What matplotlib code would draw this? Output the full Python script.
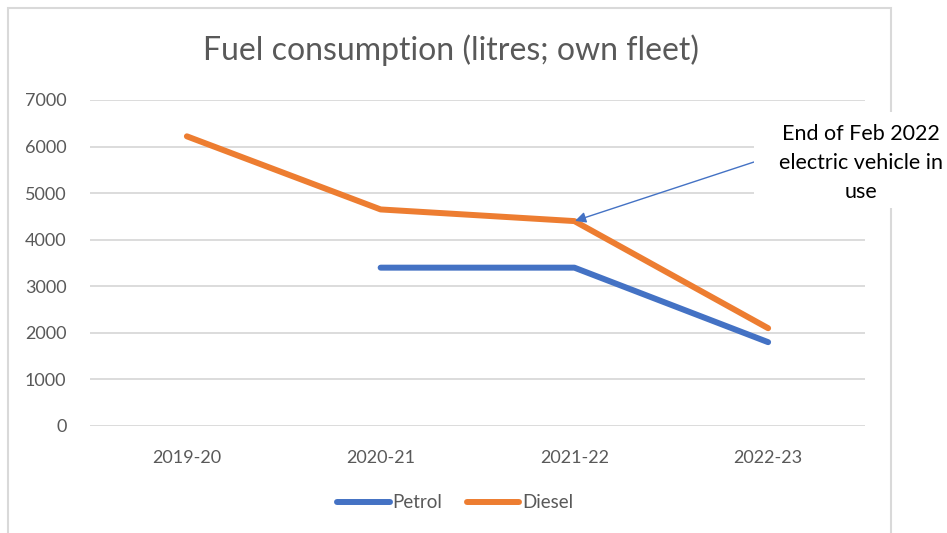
import matplotlib.pyplot as plt
from matplotlib.patches import Rectangle
import numpy as np

years = ['2019-20', '2020-21', '2021-22', '2022-23']
petrol = [np.nan, 3400, 3400, 1800]
diesel = [6220, 4650, 4400, 2100]
yticks = [0, 1000, 2000, 3000, 4000, 5000, 6000, 7000]

blue = '#4472C4'
orange = '#ED7D31'
grey_txt = '#595959'

plt.rcParams['font.family'] = ['Lato', 'DejaVu Sans']

W, H = 947, 533
fig = plt.figure(figsize=(W / 100, H / 100), dpi=100)
ax = fig.add_axes([90 / W, 1 - 426 / H, (865 - 90) / W, (426 - 100) / H])

x = np.arange(len(years))
ax.plot(x, petrol, color=blue, lw=4.3, solid_capstyle='round', solid_joinstyle='round', label='Petrol', zorder=3)
ax.plot(x, diesel, color=orange, lw=4.3, solid_capstyle='round', solid_joinstyle='round', label='Diesel', zorder=3)

ax.set_xlim(-0.5, len(years) - 0.5)
ax.set_ylim(0, 7000)
ax.set_yticks(yticks)
ax.set_xticks(x)
ax.set_xticklabels(years)
ax.grid(axis='y', color='#D9D9D9', lw=1.3)
ax.set_axisbelow(True)
for s in ax.spines.values():
    s.set_visible(False)
ax.tick_params(axis='both', length=0, labelsize=13, labelcolor=grey_txt)
ax.tick_params(axis='y', pad=17)
ax.tick_params(axis='x', pad=17)

fig.text(451 / W, 1 - 50 / H, 'Fuel consumption (litres; own fleet)', ha='center', va='center',
         fontsize=23, color=grey_txt)

# chart frame
fig.patches.append(Rectangle((8 / W, -0.1), (891 - 8) / W, 1.1 - 8 / H, transform=fig.transFigure,
                             fill=False, ec='#D9D9D9', lw=1.5, zorder=1))

leg = fig.legend(loc='center', bbox_to_anchor=(455 / W, 1 - 503 / H), ncol=2, frameon=False,
                 fontsize=13.5, handlelength=2.8, handletextpad=0.15, columnspacing=1.3)
for t in leg.get_texts():
    t.set_color(grey_txt)

# annotation box
fig.patches.append(Rectangle((754 / W, 1 - 208 / H), (W - 754) / W, 96 / H, transform=fig.transFigure,
                             fc='white', ec='none', zorder=2))
fig.text(861 / W, 1 - 163 / H, 'End of Feb 2022\nelectric vehicle in\nuse', ha='center', va='center',
         fontsize=15.5, color='black', linespacing=1.55, zorder=4)

ax.annotate('', xy=(2, diesel[2]), xytext=(754 / W, 1 - 162 / H), textcoords='figure fraction',
            arrowprops=dict(arrowstyle='-|>', color=blue, lw=1, mutation_scale=16, shrinkA=0, shrinkB=0.5),
            annotation_clip=False, zorder=5)

fig.savefig('out.png', dpi=100)
